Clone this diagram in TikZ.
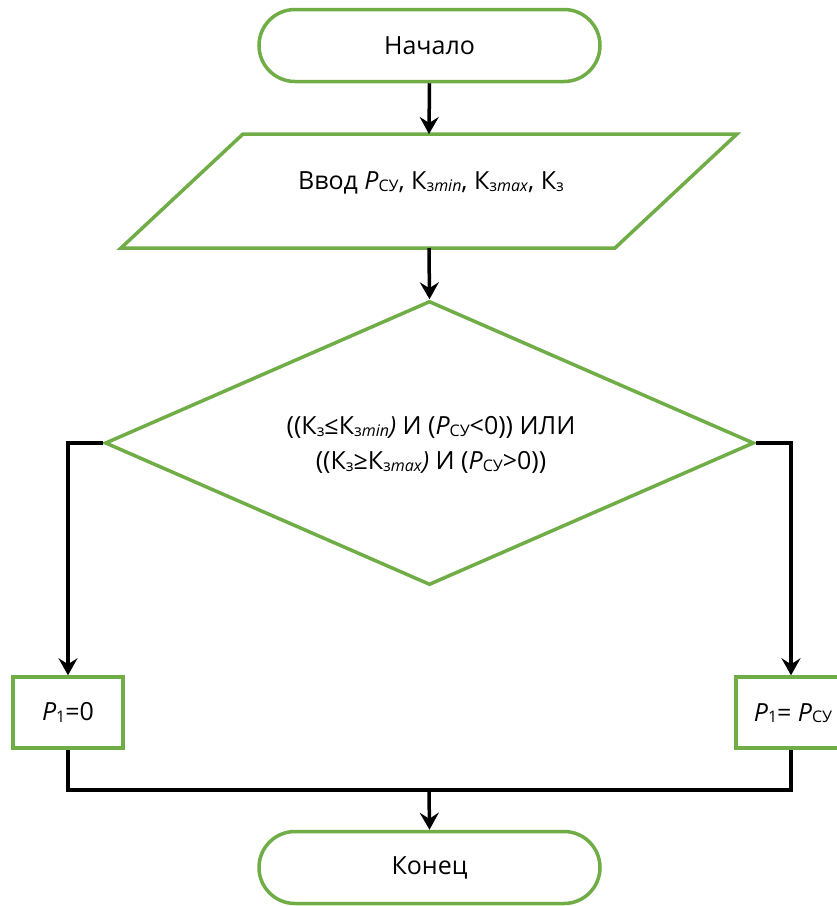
\documentclass[tikz,border=0pt]{standalone}
\usepackage{fontspec}
\setmainfont{Open Sans}
\usetikzlibrary{shapes.geometric,shapes.misc,arrows.meta}
\definecolor{flowgreen}{HTML}{70AD47}
% lowered, smaller text for indices
\newcommand\lo[1]{\raisebox{-1.5pt}{\fontsize{16}{16}\selectfont #1}}
\begin{document}
\begin{tikzpicture}[x=1pt,y=-1pt,
  shapeline/.style={draw=flowgreen,line width=3.5pt,fill=white},
  term/.style={shapeline,rounded rectangle,minimum width=341pt,minimum height=72pt,inner sep=0pt},
  actbox/.style={shapeline,rectangle,minimum width=110pt,minimum height=71pt,inner sep=0pt},
  txt/.style={font=\fontsize{25}{35}\selectfont,align=center},
  link/.style={line width=3.5pt,draw=black},
  arrowlink/.style={link,-{Stealth[length=17pt,width=19pt,inset=6pt]}}]
  \clip (0,0) rectangle (837,906);

  % start / end terminals
  \node[term,txt] (start) at (429.5,45.5) {Начало};
  \node[term,txt] (stop) at (429.5,867.5) {Конец};

  % input parallelogram
  \coordinate (inTL) at (243,134);
  \coordinate (inTR) at (737,134);
  \coordinate (inBR) at (615,248);
  \coordinate (inBL) at (121,248);
  \draw[shapeline,line join=miter] (inTL) -- (inTR) -- (inBR) -- (inBL) -- cycle;
  \coordinate (inTop) at (429,134);
  \coordinate (inBot) at (429,248);
  \node[txt] (input) at (431,183) {Ввод \textit{P}\lo{СУ}, К\lo{з\textit{min}}, К\lo{з\textit{max}}, К\lo{з}};

  % decision
  \node[shapeline,diamond,minimum width=649pt,minimum height=284pt,inner sep=0pt] (cond) at (429.5,443) {};
  \node[txt] (condtext) at (431,445) {((К\lo{з}≤К\lo{з\textit{min}}\textit{)} И (\textit{P}\lo{СУ}<0)) ИЛИ\\((К\lo{з}≥К\lo{з\textit{max}}\textit{)} И (\textit{P}\lo{СУ}>0))};

  % assignments
  \node[actbox,txt] (pzero) at (68,712.5) {\textit{P}\lo{1}=0};
  \node[actbox] (pset) at (791,712.5) {};
  \node[txt] (psettext) at (793,713) {\textit{P}\lo{1}= \textit{P}\lo{СУ}};

  \coordinate (join) at (429,790);

  % connectors
  \draw[arrowlink] (start.south) -- (inTop);
  \draw[arrowlink] (inBot) -- (cond.north);
  \draw[arrowlink] (cond.west) -| (pzero.north);
  \draw[arrowlink] (cond.east) -| (pset.north);
  \draw[link] (pzero.south) |- (join);
  \draw[link] (pset.south) |- (join);
  \draw[arrowlink] (join) -- (stop.north);
\end{tikzpicture}
\end{document}
